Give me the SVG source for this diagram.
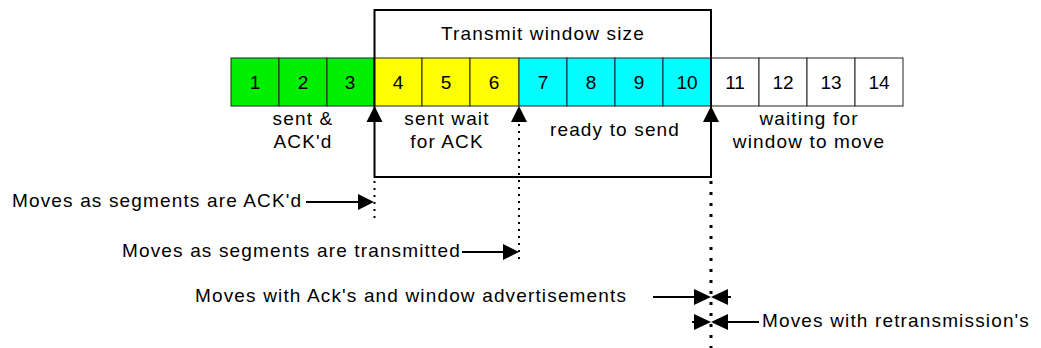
<svg xmlns="http://www.w3.org/2000/svg" width="1041" height="348" viewBox="0 0 1041 348">
  <style>
    text { font-family: "Liberation Sans", Arial, sans-serif; font-size: 19px; fill: #000; letter-spacing: 1.15px; }
    .num { text-anchor: middle; letter-spacing: 0; }
    .mid { text-anchor: middle; }
    .cell { stroke: #222; stroke-width: 1; }
    .box { fill: none; stroke: #000; stroke-width: 2; }
    .line { stroke: #000; stroke-width: 2; fill: none; }
    .dot { stroke: #000; stroke-width: 2; stroke-dasharray: 2 5; fill: none; }
    .dot2 { stroke: #000; stroke-width: 3; stroke-dasharray: 3 8; fill: none; }
    .head { fill: #000; }
  </style>

  <!-- sequence of segments -->
  <g id="segments">
    <rect class="cell" x="231" y="58" width="48" height="48" fill="#00ee00"/>
    <rect class="cell" x="279" y="58" width="48" height="48" fill="#00ee00"/>
    <rect class="cell" x="327" y="58" width="47" height="48" fill="#00ee00"/>
    <rect class="cell" x="374" y="58" width="48" height="48" fill="#ffff00"/>
    <rect class="cell" x="422" y="58" width="48" height="48" fill="#ffff00"/>
    <rect class="cell" x="470" y="58" width="49" height="48" fill="#ffff00"/>
    <rect class="cell" x="519" y="58" width="48" height="48" fill="#00ffff"/>
    <rect class="cell" x="567" y="58" width="48" height="48" fill="#00ffff"/>
    <rect class="cell" x="615" y="58" width="48" height="48" fill="#00ffff"/>
    <rect class="cell" x="663" y="58" width="48" height="48" fill="#00ffff"/>
    <rect class="cell" x="711" y="58" width="48" height="48" fill="#ffffff"/>
    <rect class="cell" x="759" y="58" width="48" height="48" fill="#ffffff"/>
    <rect class="cell" x="807" y="58" width="48" height="48" fill="#ffffff"/>
    <rect class="cell" x="855" y="58" width="48" height="48" fill="#ffffff"/>
    <text class="num" x="255" y="89">1</text>
    <text class="num" x="303" y="89">2</text>
    <text class="num" x="350" y="89">3</text>
    <text class="num" x="398" y="89">4</text>
    <text class="num" x="446" y="89">5</text>
    <text class="num" x="494" y="89">6</text>
    <text class="num" x="543" y="89">7</text>
    <text class="num" x="591" y="89">8</text>
    <text class="num" x="639" y="89">9</text>
    <text class="num" x="687" y="89">10</text>
    <text class="num" x="735" y="89">11</text>
    <text class="num" x="783" y="89">12</text>
    <text class="num" x="831" y="89">13</text>
    <text class="num" x="879" y="89">14</text>
  </g>

  <!-- transmit window -->
  <g id="window">
    <rect class="box" x="374.5" y="10" width="336.5" height="167"/>
    <text class="mid" x="543" y="40">Transmit window size</text>
  </g>

  <!-- group labels -->
  <g id="label-acked">
    <text class="mid" x="303" y="125">sent &amp;</text>
    <text class="mid" x="303" y="148">ACK'd</text>
  </g>
  <g id="label-sent">
    <text class="mid" x="447" y="125">sent wait</text>
    <text class="mid" x="447" y="148">for ACK</text>
  </g>
  <g id="label-ready">
    <text class="mid" x="615" y="136">ready to send</text>
  </g>
  <g id="label-waiting">
    <text class="mid" x="809" y="125">waiting for</text>
    <text class="mid" x="809" y="148">window to move</text>
  </g>

  <!-- pointer captions -->
  <g id="caption-acked">
    <text x="12" y="207">Moves as segments are ACK'd</text>
  </g>
  <g id="caption-transmitted">
    <text x="122" y="257">Moves as segments are transmitted</text>
  </g>
  <g id="caption-advertised">
    <text x="195" y="302">Moves with Ack's and window advertisements</text>
  </g>
  <g id="caption-retransmit">
    <text x="762" y="327">Moves with retransmission's</text>
  </g>

  <!-- pointers and their tracks -->
  <g id="connectors">
    <!-- window edge markers -->
    <polygon class="head" points="374.5,106 366.5,122 382.5,122"/>
    <polygon class="head" points="519,106 511,122 527,122"/>
    <polygon class="head" points="711,106 703,122 719,122"/>
    <!-- dotted tracks -->
    <line class="dot" x1="374.5" y1="181" x2="374.5" y2="222"/>
    <line class="dot" x1="519" y1="124" x2="519" y2="259"/>
    <line class="dot2" x1="711" y1="181" x2="711" y2="348"/>
    <!-- ACK'd pointer -->
    <line class="line" x1="306" y1="202" x2="360" y2="202"/>
    <polygon class="head" points="374,202 358,194 358,210"/>
    <!-- transmitted pointer -->
    <line class="line" x1="462" y1="252" x2="505" y2="252"/>
    <polygon class="head" points="519,252 503,244 503,260"/>
    <!-- advertisement pointer -->
    <line class="line" x1="653" y1="297" x2="697" y2="297"/>
    <polygon class="head" points="711,297 694,289 694,305"/>
    <polygon class="head" points="711,297 728,289 728,305"/>
    <line class="line" x1="726" y1="297" x2="731" y2="297"/>
    <!-- retransmission pointer -->
    <line class="line" x1="692" y1="322" x2="697" y2="322"/>
    <polygon class="head" points="711,322 694,314 694,330"/>
    <polygon class="head" points="711,322 728,314 728,330"/>
    <line class="line" x1="726" y1="322" x2="759" y2="322"/>
  </g>
</svg>
